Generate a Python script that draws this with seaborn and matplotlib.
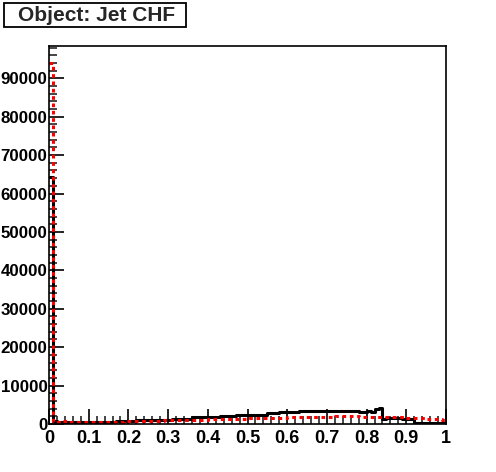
import numpy as np
import pandas as pd
import matplotlib
matplotlib.use("Agg")
import matplotlib.pyplot as plt
import matplotlib.patches as patches
from matplotlib.ticker import MultipleLocator, FixedLocator
import seaborn as sns

# 100 bins from 0 to 1
bin_edges = np.linspace(0, 1, 101)
bin_centers = (bin_edges[:-1] + bin_edges[1:]) / 2

black_counts = [
    64300, 700, 600, 600, 600, 600, 600, 600, 600, 600,
    600, 600, 600, 650, 650, 650, 650, 700, 700, 700,
    700, 700, 1000, 1000, 1000, 1000, 1000, 1000, 1000, 1000,
    1000, 1300, 1300, 1300, 1300, 1300, 1700, 1700, 1700, 1700,
    1700, 1700, 1700, 2000, 2000, 2000, 2000, 2400, 2400, 2400,
    2400, 2400, 2400, 2400, 2400, 2800, 2800, 2800, 3200, 3200,
    3200, 3200, 3200, 3500, 3500, 3500, 3500, 3500, 3500, 3500,
    3400, 3400, 3400, 3400, 3400, 3300, 3300, 3300, 3200, 3100,
    3300, 3200, 3900, 4200, 1300, 1500, 1500, 1500, 1500, 1400,
    1300, 1300, 260, 260, 260, 260, 260, 260, 260, 260,
]

red_counts = [
    94000, 500, 600, 900, 900, 500, 500, 500, 500, 500,
    500, 550, 550, 550, 600, 600, 600, 650, 650, 700,
    750, 750, 800, 800, 800, 850, 850, 900, 900, 950,
    1000, 1000, 1000, 1050, 1050, 1100, 1100, 1100, 1150, 1150,
    1200, 1200, 1250, 1250, 1300, 1300, 1350, 1350, 1400, 1400,
    1450, 1450, 1500, 1500, 1550, 1550, 1600, 1600, 1650, 1650,
    1700, 1700, 1750, 1750, 1800, 1800, 1850, 1850, 1900, 1900,
    1950, 1950, 2000, 2000, 2000, 2000, 2000, 2000, 1950, 1950,
    1950, 1900, 1900, 1900, 1850, 1850, 1800, 1800, 1750, 1700,
    1650, 1600, 1550, 1500, 1450, 1400, 1350, 1300, 1200, 1100,
]

df = pd.DataFrame({
    "chf": np.concatenate([bin_centers, bin_centers]),
    "count": black_counts + red_counts,
    "sample": ["black"] * 100 + ["red"] * 100,
})

sns.set_style("ticks")
plt.rcParams["font.family"] = ["Liberation Sans", "DejaVu Sans"]
plt.rcParams["font.weight"] = "bold"

fig = plt.figure(figsize=(4.96, 4.72), dpi=100)
ax = fig.add_axes([49 / 496, 48 / 472, 397 / 496, 378 / 472])

sns.histplot(data=df[df["sample"] == "black"], x="chf", weights="count", bins=100,
             binrange=(0, 1), element="step", fill=False, color="black",
             linewidth=2.2, ax=ax)
sns.histplot(data=df[df["sample"] == "red"], x="chf", weights="count", bins=100,
             binrange=(0, 1), element="step", fill=False, color="red",
             linewidth=2.2, linestyle=(0, (1.2, 1.2)), ax=ax)

ax.set_xlim(0, 1)
ax.set_ylim(0, 98400)
ax.set_xlabel("")
ax.set_ylabel("")

ax.xaxis.set_major_locator(FixedLocator(np.round(np.arange(0, 1.01, 0.1), 1)))
ax.set_xticklabels(["0", "0.1", "0.2", "0.3", "0.4", "0.5", "0.6", "0.7", "0.8", "0.9", "1"])
ax.xaxis.set_minor_locator(MultipleLocator(0.02))
ax.yaxis.set_major_locator(MultipleLocator(10000))
ax.yaxis.set_minor_locator(MultipleLocator(2000))
ax.yaxis.set_major_formatter(plt.FuncFormatter(lambda v, p: f"{int(v)}"))

ax.tick_params(axis="both", which="major", direction="in", length=11, width=1.2,
               colors="black")
ax.tick_params(axis="x", which="major", pad=4, labelsize=13)
ax.tick_params(axis="y", which="major", pad=1, labelsize=12.2)
ax.tick_params(axis="both", which="minor", direction="in", length=5.5, width=1.2)
for lab in ax.get_xticklabels() + ax.get_yticklabels():
    lab.set_fontweight("bold")

for s in ax.spines.values():
    s.set_visible(True)
    s.set_linewidth(1.2)
    s.set_color("black")

# title box
fig.patches.append(patches.Rectangle((4 / 496, 1 - 27 / 472), 182 / 496, 24 / 472,
                                     transform=fig.transFigure, fill=False,
                                     edgecolor="black", linewidth=1.3))
fig.text(97 / 496, 1 - 15.5 / 472, "Object: Jet CHF", ha="center", va="center",
         fontsize=15, fontweight="bold")

fig.savefig("out.png", dpi=100)
